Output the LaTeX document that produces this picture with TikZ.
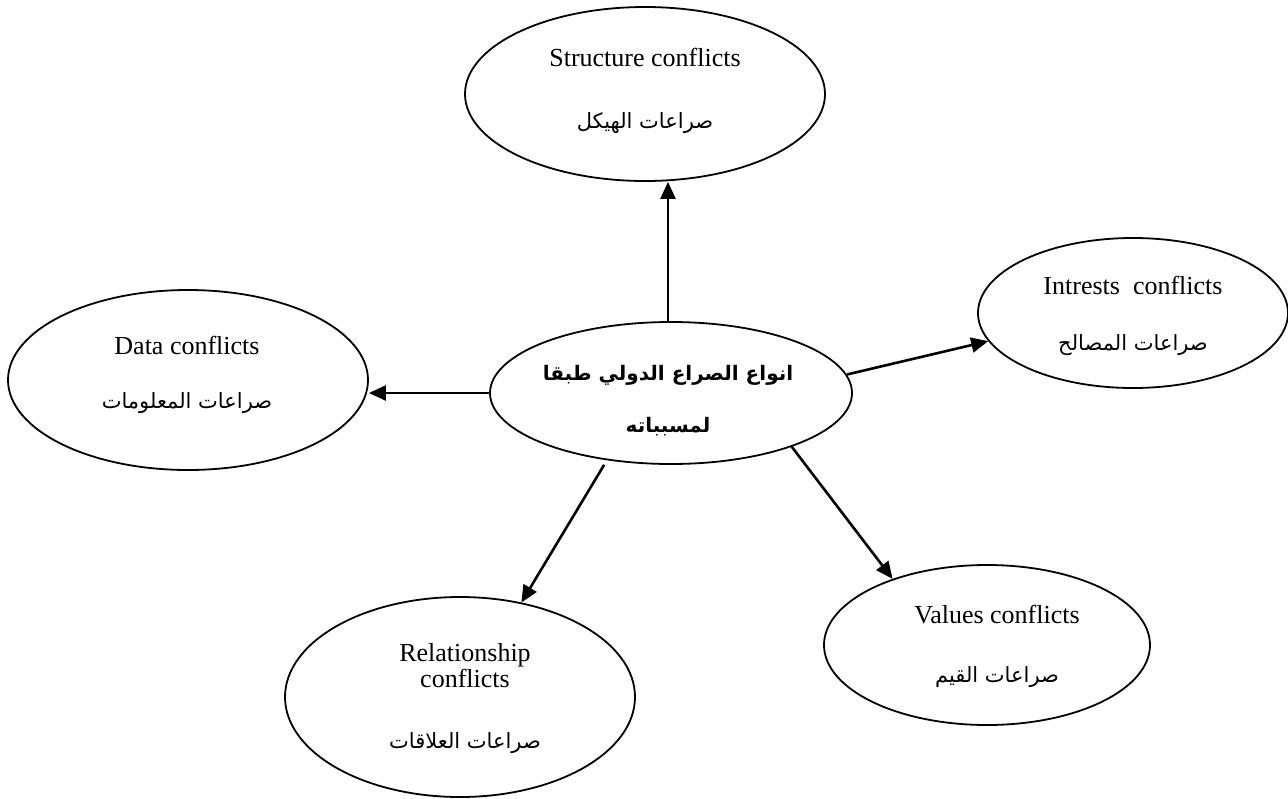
\documentclass[tikz,border=0pt]{standalone}
\usepackage{fontspec}
\setmainfont{Liberation Serif}
\newfontfamily\arabicfont[Script=Arabic]{DejaVu Sans}
\TeXXeTstate=1
\usetikzlibrary{arrows.meta,shapes.geometric,calc}
\begin{document}
\begin{tikzpicture}[x=1pt,y=-1pt,
  bubble/.style={draw,line width=1.8pt,ellipse,inner sep=0pt},
  en/.style={font=\fontsize{26}{30}\selectfont,inner sep=0pt,align=center},
  ar/.style={font=\arabicfont\fontsize{21}{26}\selectfont,inner sep=0pt},
  arb/.style={font=\arabicfont\bfseries\fontsize{20}{24}\selectfont,inner sep=0pt},
  arr/.style={line width=2.6pt,-{Triangle[length=17pt,width=15pt]}}]
\useasboundingbox (0,0) rectangle (1288,798);
% ellipses
\node[bubble,minimum width=360pt,minimum height=174pt] (s) at (645,94) {};
\node[bubble,minimum width=362pt,minimum height=142pt] (c) at (671,393) {};
\node[bubble,minimum width=360pt,minimum height=180pt] (d) at (188,380) {};
\node[bubble,minimum width=310pt,minimum height=150pt] (i) at (1133,313) {};
\node[bubble,minimum width=326pt,minimum height=160pt] (v) at (987,645) {};
\node[bubble,minimum width=350pt,minimum height=200pt] (r) at (460,697) {};
% texts
\node[en] (sE) at (645,57) {Structure conflicts};
\node[ar] (sA) at (645,123) {\beginR صراعات الهيكل\endR};
\node[arb] (cA1) at (668,375) {\beginR انواع الصراع الدولي طبقا\endR};
\node[arb] (cA2) at (668,427) {\beginR لمسبباته\endR};
\node[en] (dE) at (187,345) {Data conflicts};
\node[ar] (dA) at (187,403) {\beginR صراعات المعلومات\endR};
\node[en] (iE) at (1133,285) {Intrests~~conflicts};
\node[ar] (iA) at (1133,345) {\beginR صراعات المصالح\endR};
\node[en] (vE) at (997,615) {Values conflicts};
\node[ar] (vA) at (997,677) {\beginR صراعات القيم\endR};
\node[en] (rE) at (465,666) {Relationship\\[-4pt]conflicts};
\node[ar] (rA) at (465,743) {\beginR صراعات العلاقات\endR};
% arrows
\draw[arr] (c.north -| 668,0) -- (s.south -| 668,0);
\draw[arr] (c.west) -- (c.west -| d.east);
\draw[arr] (c.6) -- (i.191);
\draw[arr] ($(c.225)+(0,5)$) -- (r.57);
\draw[arr] (c.336) -- (v.145);
\end{tikzpicture}
\end{document}
